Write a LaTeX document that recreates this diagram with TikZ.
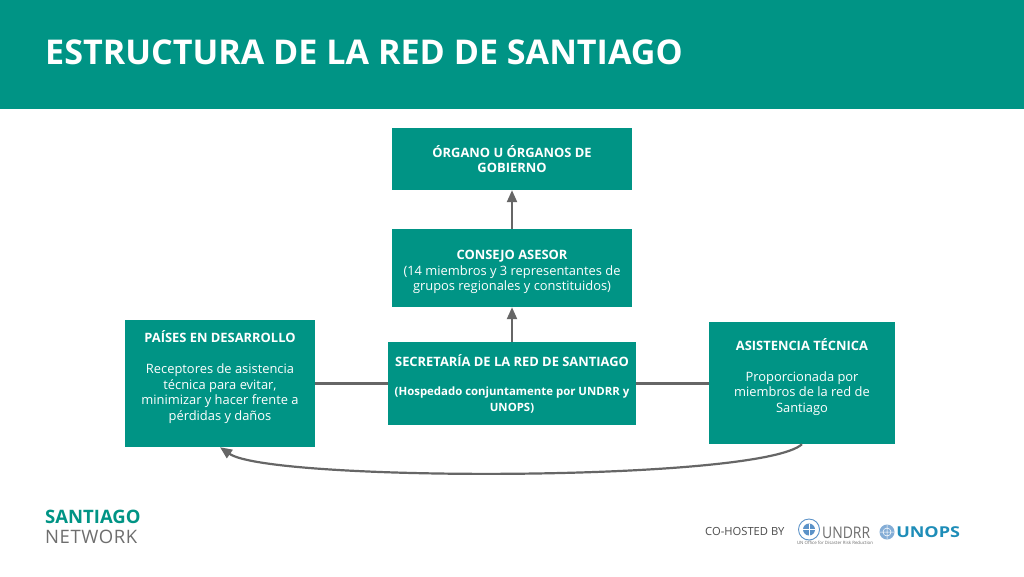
\documentclass[tikz,border=0pt]{standalone}
\usepackage{fontspec}
\setmainfont{Open Sans}
\usetikzlibrary{arrows.meta}
\definecolor{teal}{HTML}{009485}
\definecolor{conn}{HTML}{666666}
\definecolor{unblue}{HTML}{5B92C8}
\definecolor{unopsblue}{HTML}{1E8DB8}
\definecolor{nwgray}{HTML}{6E6E6E}
\tikzset{
  box/.style={fill=teal,draw=none,text=white,align=center,inner sep=0pt,font=\fontsize{12.9}{15.5}\selectfont},
  link/.style={draw=conn,line width=2.2pt},
  arrowlink/.style={link,-{Triangle[length=12pt,width=10pt]}},
  emblem/.style={draw=unblue,line width=0.9pt,fill=white}
}
\newcommand{\hd}[1]{\textbf{#1}}
\newcommand{\smallhd}[1]{{\fontsize{11.4}{15}\selectfont\textbf{#1}}}
\begin{document}
\begin{tikzpicture}[x=1pt,y=-1pt]
\useasboundingbox (0,0) rectangle (1024,576);
\fill[white] (0,0) rectangle (1024,576);
\fill[teal] (0,0) rectangle (1024,109);
\node[text=white,anchor=west,inner sep=0pt,font=\fontsize{34.1}{36}\selectfont\bfseries] (title) at (45,52) {ESTRUCTURA DE LA RED DE SANTIAGO};

\node[box,minimum width=240pt,minimum height=62pt] (gov) at (512,159) {\hd{ÓRGANO U ÓRGANOS DE}\\\hd{GOBIERNO}};
\node[box,minimum width=240pt,minimum height=78pt] (adv) at (512,268) {\rule{0pt}{18pt}\hd{CONSEJO ASESOR}\\(14 miembros y 3 representantes de\\grupos regionales y constituidos)};
\node[box,minimum width=248pt,minimum height=83pt] (sec) at (512,383.5) {\hd{SECRETARÍA DE LA RED DE SANTIAGO}\\[14pt]\smallhd{(Hospedado conjuntamente por UNDRR y}\\\smallhd{UNOPS)}};
\node[box,minimum width=190pt,minimum height=127pt] (pais) at (220,383.5) {\hd{PAÍSES EN DESARROLLO}\\[16pt]Receptores de asistencia\\técnica para evitar,\\minimizar y hacer frente a\\pérdidas y daños\\[-4pt]\strut};
\node[box,minimum width=186pt,minimum height=122pt] (asis) at (802,383) {\hd{ASISTENCIA TÉCNICA}\\[15pt]Proporcionada por\\miembros de la red de\\Santiago\\[-5pt]\strut};

\draw[arrowlink] (adv.north) -- (gov.south);
\draw[arrowlink] (sec.north) -- (adv.south);
\draw[link] (pais.east) -- (sec.west);
\draw[link] (sec.east) -- (sec.east -| asis.west);
\draw[arrowlink] (asis.south) .. controls (760,482) and (270,482) .. (pais.south);

\node[anchor=west,inner sep=0pt,text=teal,font=\fontsize{18.5}{20}\selectfont\bfseries] (sn1) at (45,517) {SANTIAGO};
\node[anchor=west,inner sep=0pt,text=nwgray,font=\fontsize{18.5}{20}\selectfont\addfontfeature{LetterSpace=3}] (sn2) at (45,537) {NETWORK};

\node[anchor=west,inner sep=0pt,text=black!70,font=\fontsize{11.2}{13}\selectfont] (co) at (705,531) {CO-HOSTED BY};

\draw[emblem] (809,529.5) circle (10.5pt);
\fill[unblue] (809,529.5) circle (6pt);
\draw[white,line width=0.5pt] (803,529.5) -- (815,529.5) (809,523.5) -- (809,535.5);
\node[anchor=west,inner sep=0pt,text=nwgray,font=\fontsize{16}{18}\selectfont,xscale=0.87] (undrr) at (822,533) {UNDRR};
\node[anchor=north,inner sep=0pt,text=nwgray,font=\fontsize{4.4}{5}\selectfont] (undrrsub) at (835,541) {UN Office for Disaster Risk Reduction};

\fill[unblue!75] (887,532) circle (7.5pt);
\draw[white,line width=0.5pt] (887,532) circle (4pt) (880,532) -- (894,532) (887,525) -- (887,539);
\node[anchor=west,inner sep=0pt,text=unopsblue,font=\fontsize{15}{17}\selectfont\bfseries,xscale=1.2] (unops) at (896,532) {UNOPS};
\end{tikzpicture}
\end{document}
